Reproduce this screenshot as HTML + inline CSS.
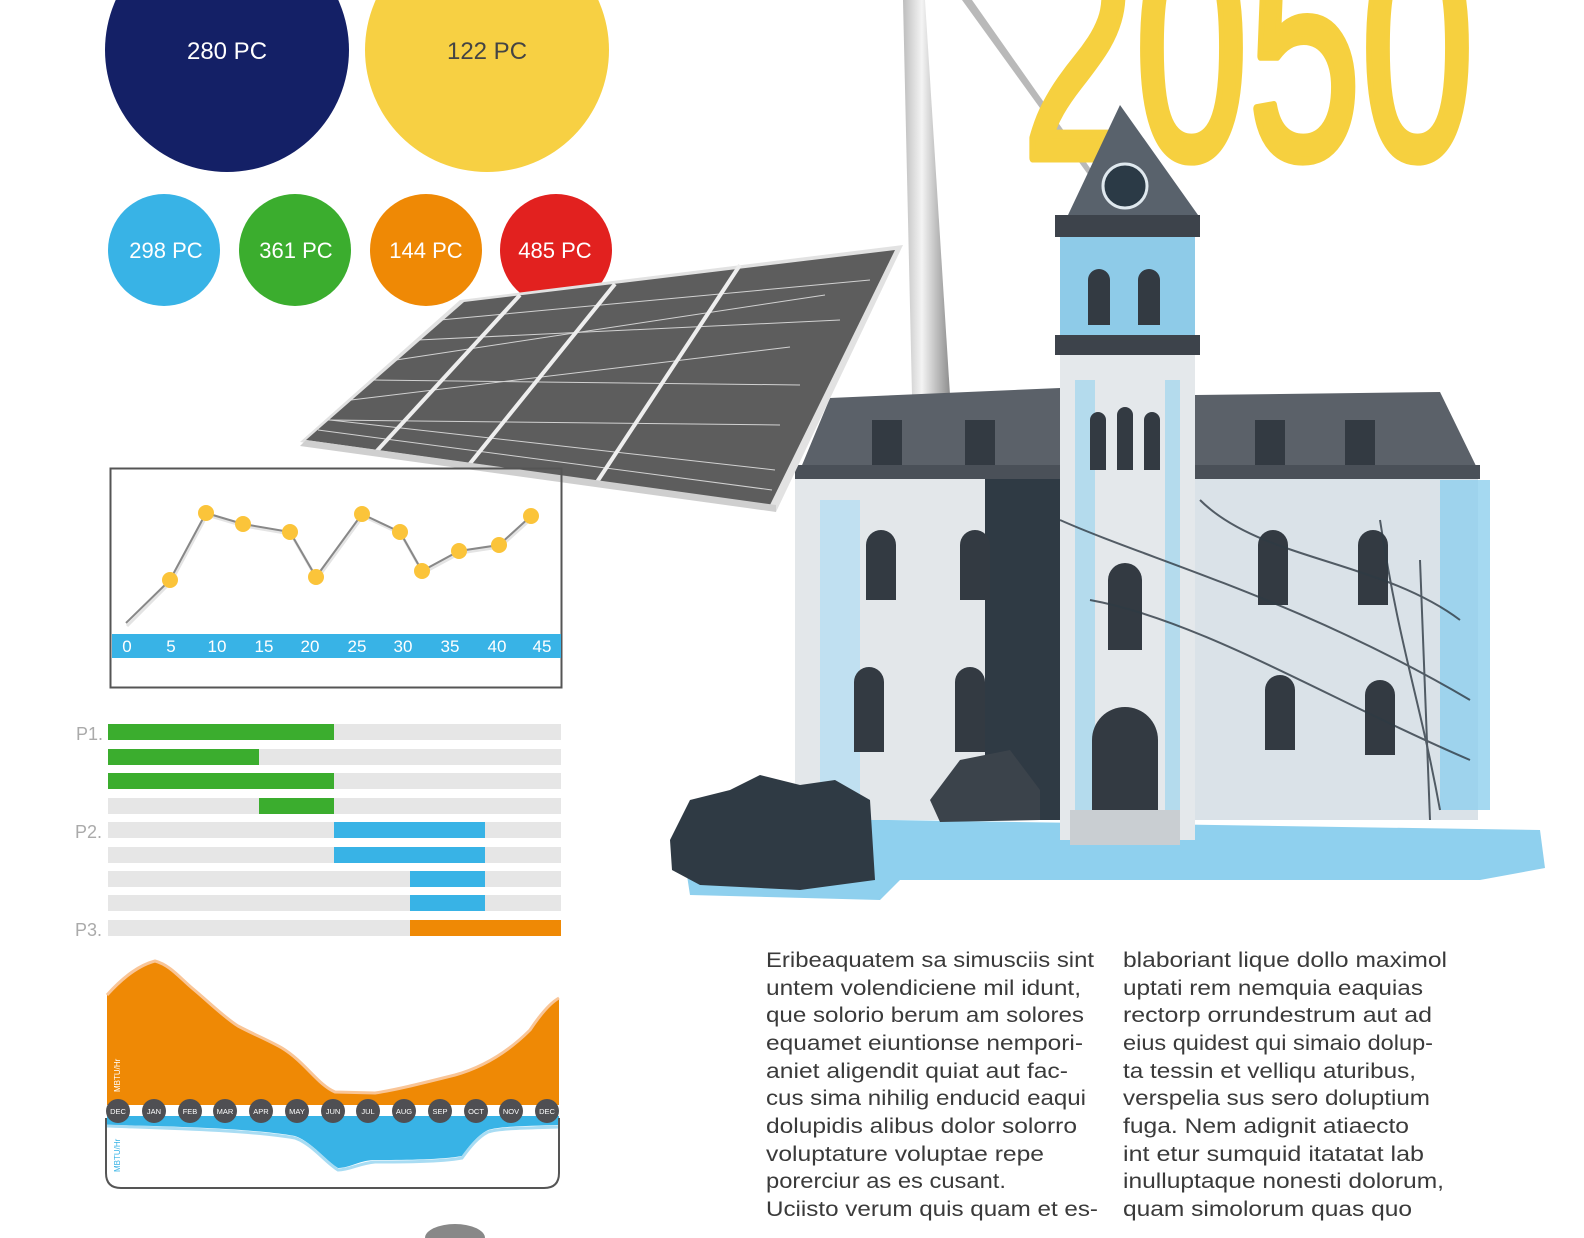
<!DOCTYPE html>
<html><head><meta charset="utf-8"><style>html,body{margin:0;padding:0;background:#fff}svg{display:block}</style></head>
<body>
<svg width="1584" height="1238" viewBox="0 0 1584 1238" xmlns="http://www.w3.org/2000/svg" font-family="Liberation Sans, sans-serif">
<defs>
<linearGradient id="pole" x1="0" x2="1"><stop offset="0" stop-color="#bdbdbd"/><stop offset=".4" stop-color="#f4f4f4"/><stop offset="1" stop-color="#8e8e8e"/></linearGradient>
</defs>
<polygon points="903,0 925,0 950,395 912,395" fill="url(#pole)"/>
<polygon points="962,0 972,0 1097,178 1092,180" fill="#b9b9b9"/>

<!-- 2050 -->
<text x="1022" y="158" font-size="320" fill="#f6d03f" stroke="#f6d03f" stroke-width="9" stroke-linejoin="round" textLength="452" lengthAdjust="spacingAndGlyphs">2050</text>

<!-- circles -->
<circle cx="227" cy="50" r="122" fill="#142066"/>
<text x="227" y="59" font-size="24" fill="#fff" text-anchor="middle">280 PC</text>
<circle cx="487" cy="50" r="122" fill="#f7d043"/>
<text x="487" y="59" font-size="24" fill="#444" text-anchor="middle">122 PC</text>
<circle cx="164" cy="250" r="56" fill="#38b3e6"/>
<text x="166" y="258" font-size="22" fill="#fff" text-anchor="middle">298 PC</text>
<circle cx="295" cy="250" r="56" fill="#3bad2e"/>
<text x="296" y="258" font-size="22" fill="#fff" text-anchor="middle">361 PC</text>
<circle cx="426" cy="250" r="56" fill="#ef8905"/>
<text x="426" y="258" font-size="22" fill="#fff" text-anchor="middle">144 PC</text>
<circle cx="556" cy="250" r="56" fill="#e2211f"/>
<text x="555" y="258" font-size="22" fill="#fff" text-anchor="middle">485 PC</text>

<!-- building -->
<g>
<polygon points="680,830 760,818 1540,830 1545,868 1480,880 900,880 880,900 690,895" fill="#8fd0ee"/>
<polygon points="800,470 830,398 1060,388 1060,470" fill="#5b6169"/>
<rect x="795" y="470" width="265" height="350" fill="#e3e7ea"/>
<rect x="820" y="500" width="40" height="310" fill="#b7dff2" opacity=".8"/>
<rect x="985" y="470" width="75" height="350" fill="#2f3a44"/>
<rect x="795" y="465" width="265" height="14" fill="#4a5058"/>
<polygon points="1195,395 1440,392 1478,470 1195,470" fill="#5b6169"/>
<rect x="1195" y="470" width="283" height="350" fill="#dae2e8"/>
<rect x="1440" y="480" width="50" height="330" fill="#8fd0ee" opacity=".8"/>
<rect x="1195" y="465" width="285" height="14" fill="#4a5058"/>
<rect x="1060" y="350" width="135" height="490" fill="#e4e8eb"/>
<rect x="1075" y="380" width="20" height="440" fill="#9fd5ee" opacity=".7"/>
<rect x="1165" y="380" width="15" height="440" fill="#9fd5ee" opacity=".7"/>
<rect x="1055" y="335" width="145" height="20" fill="#3d434b"/>
<rect x="1060" y="235" width="135" height="100" fill="#8ecbe8"/>
<rect x="1055" y="215" width="145" height="22" fill="#3d434b"/>
<polygon points="1120,105 1068,215 1198,215" fill="#59626c"/>
<circle cx="1125" cy="186" r="22" fill="#2b3a46" stroke="#dfe8ee" stroke-width="3"/>
<g fill="#333a42">
<path d="M1088,325v-45a11,11 0 0 1 22,0v45z"/><path d="M1138,325v-45a11,11 0 0 1 22,0v45z"/>
<path d="M1090,470v-50a8,8 0 0 1 16,0v50z"/><path d="M1117,470v-55a8,8 0 0 1 16,0v55z"/><path d="M1144,470v-50a8,8 0 0 1 16,0v50z"/>
<path d="M1092,810v-70a33,33 0 0 1 66,0v70z"/>
<path d="M1108,650v-70a17,17 0 0 1 34,0v70z"/>
<path d="M866,600v-55a15,15 0 0 1 30,0v55z"/><path d="M960,600v-55a15,15 0 0 1 30,0v55z"/>
<path d="M854,752v-70a15,15 0 0 1 30,0v70z"/><path d="M955,752v-70a15,15 0 0 1 30,0v70z"/>
<path d="M1258,605v-60a15,15 0 0 1 30,0v60z"/><path d="M1358,605v-60a15,15 0 0 1 30,0v60z"/>
<path d="M1265,750v-60a15,15 0 0 1 30,0v60z"/><path d="M1365,755v-60a15,15 0 0 1 30,0v60z"/>
<rect x="872" y="420" width="30" height="45"/><rect x="965" y="420" width="30" height="45"/>
<rect x="1255" y="420" width="30" height="45"/><rect x="1345" y="420" width="30" height="45"/>
</g>
<g stroke="#2f3a44" stroke-width="2" fill="none" opacity=".8">
<path d="M1060,520 C1150,560 1300,600 1470,700"/><path d="M1090,600 C1200,620 1330,700 1470,760"/>
<path d="M1200,500 C1260,560 1380,560 1460,620"/><path d="M1420,560 L1430,820"/><path d="M1380,520 C1400,650 1420,700 1440,810"/>
</g>
<rect x="1070" y="810" width="110" height="35" fill="#c9ced2"/>
<polygon points="670,840 690,800 730,790 760,775 800,785 835,780 870,800 875,880 800,890 700,885 672,870" fill="#2f3a44"/>
<polygon points="930,800 960,760 1010,750 1040,790 1040,820 940,822" fill="#3b434b"/>
</g>

<!-- solar panel -->
<polygon points="300,442 460,300 903,245 776,512 770,505" fill="#e2e2e2"/>
<polygon points="306,440 464,302 895,250 770,505" fill="#5d5d5d"/>
<g stroke="#e6e6e6" stroke-width="1" opacity=".85">
<line x1="351" y1="400" x2="790" y2="347"/><line x1="396" y1="360" x2="825" y2="295"/><line x1="328" y1="420" x2="780" y2="425"/>
<line x1="373" y1="380" x2="800" y2="385"/><line x1="418" y1="340" x2="840" y2="320"/><line x1="440" y1="320" x2="870" y2="280"/>
<line x1="330" y1="420" x2="775" y2="470"/><line x1="318" y1="430" x2="772" y2="490"/>
</g>
<g stroke="#eee" stroke-width="4">
<line x1="375" y1="453" x2="520" y2="295"/><line x1="468" y1="466" x2="615" y2="284"/><line x1="595" y1="485" x2="740" y2="265"/>
</g>
<polygon points="306,440 776,505 776,512 300,446" fill="#cfcfcf"/>

<!-- line chart -->
<rect x="110.5" y="468.5" width="451" height="219" fill="none" stroke="#555" stroke-width="2"/>
<rect x="112" y="634" width="449" height="24" fill="#38b3e6"/>
<g font-size="17" fill="#fff" text-anchor="middle">
<text x="127" y="652">0</text><text x="171" y="652">5</text><text x="217" y="652">10</text><text x="264" y="652">15</text><text x="310" y="652">20</text><text x="357" y="652">25</text><text x="403" y="652">30</text><text x="450" y="652">35</text><text x="497" y="652">40</text><text x="542" y="652">45</text>
</g>
<polyline points="127,626 171,582 207,515 244,526 291,534 317,579 363,516 401,534 423,573 460,553 500,547 532,518" fill="none" stroke="#e4e4e4" stroke-width="3"/>
<polyline points="126,623 170,580 206,513 243,524 290,532 316,577 362,514 400,532 422,571 459,551 499,545 531,516" fill="none" stroke="#888" stroke-width="2"/>
<g fill="#fbc43a">
<circle cx="170" cy="580" r="8"/><circle cx="206" cy="513" r="8"/><circle cx="243" cy="524" r="8"/><circle cx="290" cy="532" r="8"/><circle cx="316" cy="577" r="8"/><circle cx="362" cy="514" r="8"/><circle cx="400" cy="532" r="8"/><circle cx="422" cy="571" r="8"/><circle cx="459" cy="551" r="8"/><circle cx="499" cy="545" r="8"/><circle cx="531" cy="516" r="8"/>
</g>

<!-- bars -->
<g fill="#e6e6e6">
<rect x="108" y="724" width="453" height="16"/><rect x="108" y="749" width="453" height="16"/><rect x="108" y="773" width="453" height="16"/><rect x="108" y="798" width="453" height="16"/><rect x="108" y="822" width="453" height="16"/><rect x="108" y="847" width="453" height="16"/><rect x="108" y="871" width="453" height="16"/><rect x="108" y="895" width="453" height="16"/><rect x="108" y="920" width="453" height="16"/>
</g>
<g fill="#3bad2e"><rect x="108" y="724" width="226" height="16"/><rect x="108" y="749" width="151" height="16"/><rect x="108" y="773" width="226" height="16"/><rect x="259" y="798" width="75" height="16"/></g>
<g fill="#38b3e6"><rect x="334" y="822" width="151" height="16"/><rect x="334" y="847" width="151" height="16"/><rect x="410" y="871" width="75" height="16"/><rect x="410" y="895" width="75" height="16"/></g>
<rect x="410" y="920" width="151" height="16" fill="#ef8905"/>
<g font-size="18" fill="#aaa"><text x="76" y="740">P1.</text><text x="75" y="838">P2.</text><text x="75" y="936">P3.</text></g>

<!-- area chart -->
<path d="M107,995 C125,975 140,965 155,961 C170,965 180,978 192,988 C210,1003 225,1018 238,1026 C255,1035 268,1040 282,1048 C305,1062 318,1085 335,1092 L375,1093 C395,1090 415,1085 455,1075 C480,1068 505,1055 530,1030 C540,1015 550,1003 559,998 L559,1105 L107,1105 Z" fill="#ef8905"/>
<path d="M107,995 C125,975 140,965 155,961 C170,965 180,978 192,988 C210,1003 225,1018 238,1026 C255,1035 268,1040 282,1048 C305,1062 318,1085 335,1092 L375,1093 C395,1090 415,1085 455,1075 C480,1068 505,1055 530,1030 C540,1015 550,1003 559,998" fill="none" stroke="#f9c597" stroke-width="3"/>
<path d="M107,1116 L559,1116 L559,1125 C530,1126 500,1126 488,1130 C478,1135 470,1145 462,1156 C440,1160 400,1160 375,1160 C360,1160 350,1168 338,1168 C325,1160 312,1142 295,1136 C250,1128 160,1126 107,1125 Z" fill="#38b3e6"/>
<path d="M107,1126 C160,1128 250,1130 295,1138 C312,1144 325,1162 338,1170 C350,1170 360,1163 375,1162 C400,1162 440,1162 462,1158 C470,1147 478,1137 488,1132 C500,1128 530,1128 559,1127" fill="none" stroke="#a8dcf3" stroke-width="3"/>
<path d="M106,1118 V1173 Q106,1188 121,1188 H544 Q559,1188 559,1173 V1118" fill="none" stroke="#555" stroke-width="2"/>
<text transform="translate(120,1092) rotate(-90)" font-size="8" fill="#fff">MBTU/Hr</text>
<text transform="translate(120,1172) rotate(-90)" font-size="8" fill="#38b3e6">MBTU/Hr</text>
<g fill="#4f4f53">
<circle cx="118" cy="1111" r="12"/><circle cx="154" cy="1111" r="12"/><circle cx="190" cy="1111" r="12"/><circle cx="225" cy="1111" r="12"/><circle cx="261" cy="1111" r="12"/><circle cx="297" cy="1111" r="12"/><circle cx="333" cy="1111" r="12"/><circle cx="368" cy="1111" r="12"/><circle cx="404" cy="1111" r="12"/><circle cx="440" cy="1111" r="12"/><circle cx="476" cy="1111" r="12"/><circle cx="511" cy="1111" r="12"/><circle cx="547" cy="1111" r="12"/>
</g>
<g font-size="7.5" fill="#fff" text-anchor="middle">
<text x="118" y="1114">DEC</text><text x="154" y="1114">JAN</text><text x="190" y="1114">FEB</text><text x="225" y="1114">MAR</text><text x="261" y="1114">APR</text><text x="297" y="1114">MAY</text><text x="333" y="1114">JUN</text><text x="368" y="1114">JUL</text><text x="404" y="1114">AUG</text><text x="440" y="1114">SEP</text><text x="476" y="1114">OCT</text><text x="511" y="1114">NOV</text><text x="547" y="1114">DEC</text>
</g>
<ellipse cx="455" cy="1238" rx="30" ry="14" fill="#555" opacity=".7"/>

<!-- body text -->
<g font-size="21" fill="#3a3a3a">
<text x="766" y="967" textLength="328" lengthAdjust="spacingAndGlyphs">Eribeaquatem sa simusciis sint</text>
<text x="766" y="995" textLength="315" lengthAdjust="spacingAndGlyphs">untem volendiciene mil idunt,</text>
<text x="766" y="1022" textLength="318" lengthAdjust="spacingAndGlyphs">que solorio berum am solores</text>
<text x="766" y="1050" textLength="317" lengthAdjust="spacingAndGlyphs">equamet eiuntionse nempori-</text>
<text x="766" y="1078" textLength="302" lengthAdjust="spacingAndGlyphs">aniet aligendit quiat aut fac-</text>
<text x="766" y="1105" textLength="320" lengthAdjust="spacingAndGlyphs">cus sima nihilig enducid eaqui</text>
<text x="766" y="1133" textLength="311" lengthAdjust="spacingAndGlyphs">dolupidis alibus dolor solorro</text>
<text x="766" y="1161" textLength="278" lengthAdjust="spacingAndGlyphs">voluptature voluptae repe</text>
<text x="766" y="1188" textLength="240" lengthAdjust="spacingAndGlyphs">porerciur as es cusant.</text>
<text x="766" y="1216" textLength="332" lengthAdjust="spacingAndGlyphs">Uciisto verum quis quam et es-</text>
<text x="1123" y="967" textLength="324" lengthAdjust="spacingAndGlyphs">blaboriant lique dollo maximol</text>
<text x="1123" y="995" textLength="300" lengthAdjust="spacingAndGlyphs">uptati rem nemquia eaquias</text>
<text x="1123" y="1022" textLength="309" lengthAdjust="spacingAndGlyphs">rectorp orrundestrum aut ad</text>
<text x="1123" y="1050" textLength="310" lengthAdjust="spacingAndGlyphs">eius quidest qui simaio dolup-</text>
<text x="1123" y="1078" textLength="293" lengthAdjust="spacingAndGlyphs">ta tessin et velliqu aturibus,</text>
<text x="1123" y="1105" textLength="307" lengthAdjust="spacingAndGlyphs">verspelia sus sero doluptium</text>
<text x="1123" y="1133" textLength="286" lengthAdjust="spacingAndGlyphs">fuga. Nem adignit atiaecto</text>
<text x="1123" y="1161" textLength="301" lengthAdjust="spacingAndGlyphs">int etur sumquid itatatat lab</text>
<text x="1123" y="1188" textLength="321" lengthAdjust="spacingAndGlyphs">inulluptaque nonesti dolorum,</text>
<text x="1123" y="1216" textLength="289" lengthAdjust="spacingAndGlyphs">quam simolorum quas quo</text>
</g>
</svg>
</body></html>
